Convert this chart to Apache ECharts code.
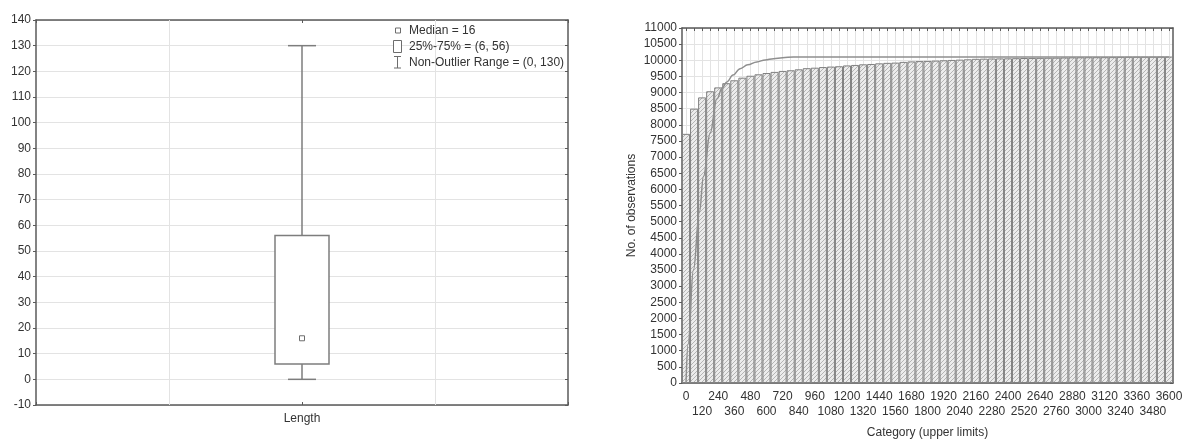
<!DOCTYPE html>
<html>
<head>
<meta charset="utf-8">
<script src="https://cdn.jsdelivr.net/npm/echarts@6/dist/echarts.min.js"></script>
<style>
  html, body { margin: 0; padding: 0; background: #ffffff; }
  #chart { width: 1182px; height: 442px; }
</style>
</head>
<body>
<div id="chart"></div>
<script>
// ---- Box plot: Length ----
const boxCategory = 'Length';
const boxPosition = 2;               // centre of the 0..4 x range
const boxStats = [0, 6, 16, 56, 130]; // min, q1, median, q3, max (non-outlier range)
const boxGridX = [1, 3];             // vertical grid lines
const boxYTicks = { min: -10, max: 140, step: 10 };

// ---- Cumulative histogram ----
const histCategories = ['0','60','120','180','240','300','360','420','480','540','600','660','720','780','840','900','960','1020','1080','1140','1200','1260','1320','1380','1440','1500','1560','1620','1680','1740','1800','1860','1920','1980','2040','2100','2160','2220','2280','2340','2400','2460','2520','2580','2640','2700','2760','2820','2880','2940','3000','3060','3120','3180','3240','3300','3360','3420','3480','3540','3600'];
const histCounts = [7720, 8500, 8850, 9040, 9160, 9290, 9380, 9460, 9520, 9565, 9605, 9640, 9670, 9690, 9720, 9755, 9770, 9790, 9805, 9815, 9840, 9855, 9875, 9885, 9905, 9920, 9928, 9950, 9965, 9975, 9980, 9990, 10000, 10010, 10020, 10030, 10045, 10050, 10055, 10058, 10060, 10065, 10070, 10072, 10075, 10078, 10080, 10085, 10090, 10092, 10094, 10095, 10096, 10098, 10105, 10108, 10110, 10110, 10112, 10114, 10115];
// fitted cumulative curve: [upper limit, count]
const fitCurve = [[0, 0], [15, 1200], [55, 3500], [100, 5300], [130, 6400], [180, 7750], [230, 8800], [270, 9150], [305, 9330], [350, 9540], [403, 9740], [460, 9860], [528, 9950], [590, 10010], [652, 10050], [720, 10080], [800, 10100], [3600, 10100]];
const histYTicks = { min: 0, max: 11000, step: 500 };

const FONT = '"Liberation Sans", Arial, sans-serif';
const TXT = '#333333';
const FRAME = '#5a5a5a';
const GRID = '#e3e3e3';

// diagonal hatch fill for the histogram bars
function hatchPattern() {
  const c = document.createElement('canvas');
  c.width = 4; c.height = 4;
  const g = c.getContext('2d');
  g.fillStyle = '#ececec';
  g.fillRect(0, 0, 4, 4);
  g.fillStyle = '#b4b4b4';
  for (let i = 0; i < 4; i++) g.fillRect(i, 3 - i, 1, 1);
  return c;
}

const chart = echarts.init(document.getElementById('chart'), null, { renderer: 'canvas' });

const frameLine = { show: true, onZero: false, lineStyle: { color: FRAME, width: 1.5 } };
const plainNumber = v => String(v);
const labelFont = { fontSize: 12, color: TXT, fontFamily: FONT };

const option = {
  animation: false,
  backgroundColor: '#ffffff',
  textStyle: { fontFamily: FONT, color: TXT },
  grid: [
    { left: 36, top: 20, width: 532, height: 385, outerBoundsMode: 'none', containLabel: false },
    { left: 682, top: 28, width: 491, height: 355, outerBoundsMode: 'none', containLabel: false }
  ],
  xAxis: [
    { // box plot bottom
      gridIndex: 0, type: 'value', min: 0, max: 4, interval: 1, position: 'bottom',
      axisLine: frameLine,
      axisTick: { show: true, inside: true, length: 3, lineStyle: { color: FRAME } },
      axisLabel: Object.assign({ margin: 8, formatter: v => (v === boxPosition ? boxCategory : '') }, labelFont),
      splitLine: { show: false }
    },
    { // box plot top frame
      gridIndex: 0, type: 'value', min: 0, max: 4, interval: 1, position: 'top',
      axisLine: frameLine,
      axisTick: { show: true, inside: true, length: 3, lineStyle: { color: FRAME } },
      axisLabel: { show: false }, splitLine: { show: false }
    },
    { // histogram categories, first label row (every 240)
      gridIndex: 1, type: 'category', data: histCategories, position: 'bottom',
      axisLine: frameLine,
      axisTick: { show: true, inside: true, length: 3, interval: 0, alignWithLabel: true, lineStyle: { color: FRAME } },
      axisLabel: Object.assign({ interval: i => i % 4 === 0, margin: 8, showMinLabel: true, showMaxLabel: true, hideOverlap: false }, labelFont),
      splitLine: { show: true, interval: 0, alignWithLabel: true, lineStyle: { color: GRID, width: 1 } },
      name: 'Category (upper limits)', nameLocation: 'middle', nameGap: 44,
      nameTextStyle: labelFont
    },
    { // continuous scale for the fitted curve
      gridIndex: 1, type: 'value', min: -30, max: 3630, show: false
    },
    { // histogram top frame
      gridIndex: 1, type: 'category', data: histCategories, position: 'top',
      axisLine: frameLine,
      axisTick: { show: true, inside: true, length: 3, interval: 0, alignWithLabel: true, lineStyle: { color: FRAME } },
      axisLabel: { show: false }, splitLine: { show: false }
    },
    { // histogram categories, second label row (120 + every 240)
      gridIndex: 1, type: 'category', data: histCategories, position: 'bottom',
      axisLine: { show: false, onZero: false }, axisTick: { show: false }, splitLine: { show: false },
      axisLabel: Object.assign({ interval: i => i % 4 === 2, margin: 23, hideOverlap: false }, labelFont)
    }
  ],
  yAxis: [
    {
      gridIndex: 0, type: 'value', min: boxYTicks.min, max: boxYTicks.max, interval: boxYTicks.step,
      axisLine: frameLine,
      axisTick: { show: true, length: 3, lineStyle: { color: FRAME } },
      axisLabel: Object.assign({ margin: 5, formatter: plainNumber }, labelFont),
      splitLine: { show: true, lineStyle: { color: GRID, width: 1 } }
    },
    {
      gridIndex: 0, type: 'value', min: boxYTicks.min, max: boxYTicks.max, interval: boxYTicks.step, position: 'right',
      axisLine: frameLine,
      axisTick: { show: true, inside: true, length: 3, lineStyle: { color: FRAME } },
      axisLabel: { show: false }, splitLine: { show: false }
    },
    {
      gridIndex: 1, type: 'value', min: histYTicks.min, max: histYTicks.max, interval: histYTicks.step,
      axisLine: frameLine,
      axisTick: { show: true, length: 3, lineStyle: { color: FRAME } },
      axisLabel: Object.assign({ margin: 5, formatter: plainNumber }, labelFont),
      splitLine: { show: true, lineStyle: { color: GRID, width: 1 } },
      name: 'No. of observations', nameLocation: 'middle', nameRotate: 90, nameGap: 44,
      nameTextStyle: labelFont
    },
    {
      gridIndex: 1, type: 'value', min: 0, max: 6, interval: 1, position: 'right',
      axisLine: frameLine,
      axisTick: { show: true, inside: true, length: 3, lineStyle: { color: FRAME } },
      axisLabel: { show: false }, splitLine: { show: false }
    }
  ],
  series: [
    {
      type: 'custom', name: boxCategory, xAxisIndex: 0, yAxisIndex: 0,
      data: [[boxPosition].concat(boxStats)],
      renderItem: function (params, api) {
        const x = api.value(0);
        const pMin = api.coord([x, api.value(1)]);
        const pQ1 = api.coord([x, api.value(2)]);
        const pMed = api.coord([x, api.value(3)]);
        const pQ3 = api.coord([x, api.value(4)]);
        const pMax = api.coord([x, api.value(5)]);
        const cx = pMin[0];
        const halfBox = 27, halfCap = 14, med = 2.5;
        const line = { stroke: '#7d7d7d', lineWidth: 1.5, fill: null };
        return {
          type: 'group',
          children: [
            { type: 'line', shape: { x1: cx, y1: pQ3[1], x2: cx, y2: pMax[1] }, style: line },
            { type: 'line', shape: { x1: cx, y1: pMin[1], x2: cx, y2: pQ1[1] }, style: line },
            { type: 'line', shape: { x1: cx - halfCap, y1: pMax[1], x2: cx + halfCap, y2: pMax[1] }, style: line },
            { type: 'line', shape: { x1: cx - halfCap, y1: pMin[1], x2: cx + halfCap, y2: pMin[1] }, style: line },
            { type: 'rect', shape: { x: cx - halfBox, y: pQ3[1], width: 2 * halfBox, height: pQ1[1] - pQ3[1] },
              style: { stroke: '#7d7d7d', lineWidth: 1.5, fill: '#ffffff' } },
            { type: 'rect', shape: { x: cx - med, y: pMed[1] - med, width: 2 * med, height: 2 * med },
              style: { stroke: '#6d6d6d', lineWidth: 1, fill: '#ffffff' } }
          ]
        };
      },
      markLine: {
        silent: true, symbol: 'none', label: { show: false },
        lineStyle: { color: GRID, type: 'solid', width: 1 },
        data: boxGridX.map(v => ({ xAxis: v }))
      },
      z: 3
    },
    {
      type: 'bar', name: 'Count', xAxisIndex: 2, yAxisIndex: 2,
      data: histCounts, barCategoryGap: '0%',
      itemStyle: { color: { image: hatchPattern(), repeat: 'repeat' }, borderColor: '#808080', borderWidth: 1 },
      z: 2
    },
    {
      type: 'line', name: 'Fit', xAxisIndex: 3, yAxisIndex: 2,
      data: fitCurve, smooth: 0.4, smoothMonotone: 'x', showSymbol: false, symbol: 'none',
      lineStyle: { color: '#8f8f8f', width: 1.5 },
      z: 4
    }
  ],
  graphic: [
    // legend for the box plot
    { type: 'rect', shape: { x: 395.5, y: 28, width: 5, height: 5 }, style: { stroke: '#6d6d6d', lineWidth: 1, fill: '#fff' }, z: 10 },
    { type: 'text', x: 409, y: 30.5, style: { text: 'Median = ' + boxStats[2], font: '12px ' + FONT, fill: TXT, verticalAlign: 'middle' }, z: 10 },
    { type: 'rect', shape: { x: 393.5, y: 40.5, width: 8, height: 12 }, style: { stroke: '#6d6d6d', lineWidth: 1, fill: '#fff' }, z: 10 },
    { type: 'text', x: 409, y: 46.5, style: { text: '25%-75% = (' + boxStats[1] + ', ' + boxStats[3] + ')', font: '12px ' + FONT, fill: TXT, verticalAlign: 'middle' }, z: 10 },
    { type: 'line', shape: { x1: 397.5, y1: 56.5, x2: 397.5, y2: 68 }, style: { stroke: '#6d6d6d', lineWidth: 1 }, z: 10 },
    { type: 'line', shape: { x1: 394, y1: 56.5, x2: 401, y2: 56.5 }, style: { stroke: '#6d6d6d', lineWidth: 1 }, z: 10 },
    { type: 'line', shape: { x1: 394, y1: 68, x2: 401, y2: 68 }, style: { stroke: '#6d6d6d', lineWidth: 1 }, z: 10 },
    { type: 'text', x: 409, y: 62.5, style: { text: 'Non-Outlier Range = (' + boxStats[0] + ', ' + boxStats[4] + ')', font: '12px ' + FONT, fill: TXT, verticalAlign: 'middle' }, z: 10 }
  ]
};

chart.setOption(option);
</script>
</body>
</html>
